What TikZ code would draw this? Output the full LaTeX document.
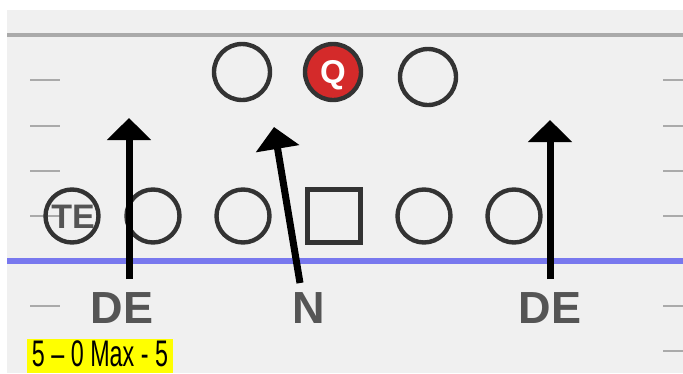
\documentclass[tikz,border=0pt]{standalone}
\usepackage{fontspec}
\setmainfont{Liberation Sans}
\usetikzlibrary{arrows.meta}
\definecolor{fieldbg}{HTML}{F0F0F0}
\definecolor{tickgray}{HTML}{AAAAAA}
\definecolor{losblue}{HTML}{7878EE}
\definecolor{playerline}{HTML}{333333}
\definecolor{labelgray}{HTML}{555555}
\definecolor{qred}{HTML}{D42A2A}
\definecolor{hlyellow}{HTML}{FFFF00}
\tikzset{
  player/.style={circle, draw=playerline, line width=4.4pt, minimum size=53pt, inner sep=0pt},
  centerbox/.style={rectangle, draw=playerline, line width=4.4pt, minimum size=53pt, inner sep=0pt},
  tickmark/.style={draw=tickgray, line width=2pt},
  movearrow/.style={draw=black, line width=7pt, -{Triangle[length=22pt,width=43pt]}},
  deflabel/.style={anchor=base, text=labelgray, font=\bfseries\fontsize{45}{45}\selectfont, inner sep=0pt},
}
\begin{document}
\begin{tikzpicture}[x=1pt,y=-1pt]
\useasboundingbox (0,0) rectangle (683,373);
\fill[white] (0,0) rectangle (683,373);
\fill[fieldbg] (7,10) rectangle (683,373);
% top line
\draw[draw=tickgray, line width=4pt] (7,35) -- (683,35);
% ticks
\foreach \yy in {80,126,171,216,306,351} {
  \draw[tickmark] (30,\yy) -- (60,\yy);
  \draw[tickmark] (663,\yy) -- (683,\yy);
}
% line of scrimmage
\draw[draw=losblue, line width=6pt] (7,261) -- (683,261);
% backfield
\node[player, minimum width=54pt, minimum height=56pt] (rb1) at (242,72) {};
\node[player, fill=qred, minimum width=54pt, minimum height=56pt] (qb) at (333,72) {};
\node[anchor=base, text=white, font=\bfseries\fontsize{33}{33}\selectfont, inner sep=0pt] (qlbl) at (333,83) {Q};
\node[player, minimum width=54pt, minimum height=56pt] (rb2) at (428,77) {};
% line
\node[player] (te) at (72,216) {};
\node[anchor=base, text=labelgray, font=\bfseries\fontsize{34}{34}\selectfont, inner sep=0pt] (telbl) at (73,228) {TE};
\node[player] (lt) at (153,216) {};
\node[player] (lg) at (243,216) {};
\node[centerbox] (c) at (334,216) {};
\node[player] (rg) at (424,216) {};
\node[player] (rt) at (514,216) {};
% defenders' moves
\coordinate (de1s) at (129,279);
\coordinate (de1e) at (129,118);
\coordinate (ns) at (300,283);
\coordinate (ne) at (274,127);
\coordinate (de2s) at (550,279);
\coordinate (de2e) at (550,120);
\draw[movearrow] (de1s) -- (de1e);
\draw[movearrow] (ns) -- (ne);
\draw[movearrow] (de2s) -- (de2e);
% labels
\node[deflabel] (de1) at (122,323) {DE};
\node[deflabel] (n) at (309,323) {N};
\node[deflabel] (de2) at (550,323) {DE};
% caption
\fill[hlyellow] (27,339) rectangle (173,373);
\node[anchor=base, inner sep=0pt, font=\fontsize{37}{37}\selectfont] (cap) at (100,366) {\scalebox{0.63}[1]{5 – 0 Max - 5}};
\end{tikzpicture}
\end{document}
